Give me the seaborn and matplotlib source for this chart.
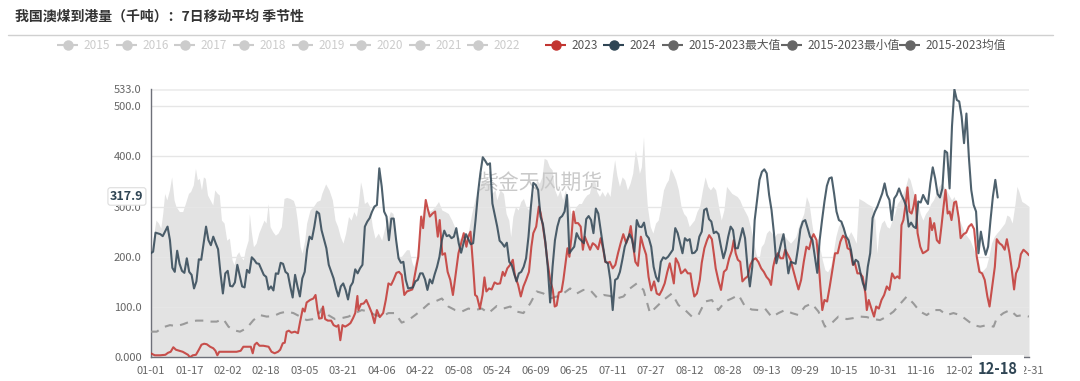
import numpy as np
import pandas as pd
import seaborn as sns
import matplotlib.pyplot as plt

sns.set_theme(style="white")
plt.rcParams['font.family'] = ['Noto Sans CJK SC', 'DejaVu Sans']
plt.rcParams['axes.unicode_minus'] = False

# ---- data: (day of year, value in thousand tonnes) ----
pts_2024 = [
    (0, 207), (1, 210), (2, 248), (4, 245), (5, 241), (7, 260), (8, 233), (9, 178), (10, 170), (11, 212),
    (12, 186), (13, 172), (14, 168), (15, 197), (16, 170), (17, 164), (18, 137), (19, 151), (20, 195), (21, 194),
    (22, 227), (23, 260), (24, 233), (25, 223), (26, 240), (27, 227), (28, 215), (29, 167), (30, 127), (31, 167),
    (32, 172), (33, 142), (34, 141), (35, 149), (36, 184), (38, 141), (39, 139), (40, 174), (41, 168), (42, 199),
    (43, 194), (44, 187), (45, 186), (47, 164), (48, 160), (49, 135), (50, 141), (51, 133), (52, 167), (53, 166),
    (54, 188), (55, 186), (56, 170), (57, 166), (58, 141), (59, 119), (60, 164), (61, 141), (62, 121), (63, 157),
    (64, 170), (65, 214), (66, 240), (67, 235), (68, 260), (69, 290), (70, 286), (71, 253), (72, 235), (73, 217),
    (74, 184), (76, 157), (77, 137), (78, 121), (79, 141), (80, 147), (81, 134), (82, 115), (83, 141), (84, 149),
    (85, 175), (86, 167), (87, 177), (88, 184), (89, 260), (90, 270), (91, 277), (92, 290), (93, 300), (94, 303),
    (95, 376), (96, 340), (97, 290), (98, 280), (99, 233), (100, 276), (101, 276), (102, 233), (103, 197), (104, 188),
    (105, 190), (106, 154), (107, 137), (109, 139), (110, 151), (111, 154), (112, 167), (113, 167), (114, 155), (115, 134),
    (116, 155), (117, 147), (118, 165), (119, 180), (120, 200), (121, 233), (122, 252), (123, 241), (124, 243), (125, 237),
    (126, 240), (127, 257), (128, 227), (129, 208), (130, 227), (131, 245), (132, 235), (133, 225), (134, 227), (135, 273),
    (136, 326), (137, 366), (138, 398), (139, 391), (140, 383), (141, 386), (142, 306), (143, 283), (144, 260), (145, 232),
    (146, 227), (147, 220), (148, 228), (149, 190), (150, 184), (151, 167), (152, 151), (153, 167), (154, 170), (155, 180),
    (156, 197), (157, 240), (158, 300), (159, 347), (160, 343), (161, 333), (162, 280), (163, 265), (164, 230), (165, 180),
    (166, 109), (167, 180), (168, 233), (169, 260), (170, 277), (171, 281), (172, 290), (173, 323), (174, 207), (175, 214),
    (176, 220), (177, 247), (178, 237), (180, 227), (181, 275), (182, 281), (183, 273), (184, 247), (185, 296), (186, 286),
    (187, 253), (188, 220), (189, 190), (190, 187), (191, 154), (192, 94), (193, 154), (194, 157), (195, 170), (196, 194),
    (197, 220), (198, 233), (199, 245), (200, 235), (201, 210), (202, 273), (203, 260), (204, 259), (205, 268), (206, 243),
    (207, 237), (208, 220), (209, 180), (210, 160), (211, 151), (212, 190), (213, 199), (214, 196), (215, 200), (216, 207),
    (217, 214), (218, 257), (219, 247), (220, 227), (221, 207), (222, 237), (223, 232), (224, 235), (225, 207), (226, 208),
    (227, 214), (228, 240), (229, 250), (230, 293), (231, 296), (232, 275), (233, 270), (234, 247), (235, 250), (236, 245),
    (237, 220), (238, 197), (239, 214), (240, 240), (241, 260), (242, 253), (243, 217), (244, 217), (245, 237), (246, 257),
    (247, 237), (248, 180), (249, 141), (250, 180), (251, 273), (252, 313), (253, 353), (254, 369), (255, 374), (256, 366),
    (257, 323), (258, 293), (259, 247), (260, 187), (261, 207), (262, 227), (263, 245), (264, 207), (265, 167), (266, 190),
    (267, 188), (268, 186), (269, 217), (270, 255), (271, 270), (272, 273), (273, 257), (274, 240), (275, 233), (276, 200),
    (277, 168), (278, 233), (279, 273), (280, 310), (281, 341), (282, 356), (283, 358), (284, 326), (285, 290), (286, 273),
    (287, 270), (288, 257), (289, 240), (290, 233), (291, 214), (292, 184), (293, 194), (294, 190), (295, 167), (296, 147),
    (297, 134), (298, 180), (299, 207), (300, 277), (301, 290), (302, 300), (303, 313), (304, 326), (305, 346), (306, 323),
    (307, 313), (308, 273), (309, 316), (310, 323), (311, 336), (312, 323), (313, 313), (314, 300), (315, 260), (316, 268),
    (317, 260), (318, 257), (319, 310), (320, 308), (321, 323), (322, 313), (323, 305), (324, 346), (325, 378), (326, 356),
    (327, 325), (328, 318), (329, 336), (330, 411), (331, 407), (332, 336), (333, 460), (334, 533), (335, 512), (336, 509),
    (337, 479), (338, 426), (339, 485), (340, 399), (341, 333), (342, 303), (343, 290), (344, 207), (345, 250), (346, 223),
    (347, 204), (348, 220), (349, 273), (350, 320), (351, 353), (352, 317.9),
]

pts_2023 = [
    (0, 8), (1.7, 4), (3.9, 4), (6.1, 5), (7.2, 9), (8.3, 11), (9.4, 20), (10.5, 15), (11.9, 13), (13.3, 11),
    (14.4, 8), (15.5, 5), (16.3, 0), (17.5, 4), (18.8, 5), (20.0, 15), (21.1, 25), (22.2, 27), (23.3, 26), (24.7, 21),
    (26.0, 18), (26.9, 13), (27.7, 4), (28.5, 11), (30.2, 11), (33.0, 11), (35.7, 11), (37.4, 13), (38.5, 21), (39.9, 21),
    (41.6, 21), (42.4, 8), (43.2, 25), (44.1, 29), (45.2, 23), (46.8, 23), (49.0, 21), (50.2, 11), (51.5, 8), (52.9, 11),
    (53.8, 15), (54.9, 28), (55.7, 29), (56.5, 51), (57.4, 53), (58.5, 49), (59.9, 51), (61.2, 48), (62.1, 71), (63.2, 97),
    (64.0, 91), (64.8, 109), (66.2, 114), (67.6, 117), (68.5, 124), (69.3, 95), (70.0, 77), (71.1, 78), (71.6, 101), (72.5, 76),
    (73.6, 73), (75.0, 73), (76.0, 64), (77.2, 61), (78.0, 64), (78.8, 34), (79.7, 64), (80.8, 61), (81.9, 64), (83.0, 68),
    (84.1, 78), (85.0, 88), (85.9, 122), (86.3, 94), (87.4, 106), (88.5, 107), (89.6, 114), (90.7, 102), (91.9, 88), (93.0, 68),
    (94.0, 94), (95.2, 80), (96.6, 88), (97.7, 114), (98.8, 147), (99.9, 144), (101.0, 155), (102.1, 168), (103.2, 170), (104.3, 164),
    (105.4, 124), (106.5, 131), (107.6, 133), (108.7, 135), (109.9, 167), (111.2, 200), (112.4, 280), (113.2, 257), (114.3, 313), (115.1, 296),
    (116.0, 280), (117.1, 286), (118.2, 290), (119.3, 240), (120.1, 273), (121.2, 204), (122.3, 207), (123.4, 170), (124.5, 154), (125.6, 124),
    (126.8, 167), (127.9, 207), (129.0, 227), (130.1, 247), (131.2, 220), (132.0, 240), (132.9, 250), (134.0, 180), (134.8, 124), (135.6, 121),
    (136.8, 97), (137.9, 124), (138.7, 159), (139.5, 131), (140.6, 137), (141.7, 135), (142.9, 149), (144.0, 146), (145.2, 147), (146.3, 170),
    (147.1, 162), (148.2, 177), (149.4, 184), (150.5, 194), (151.3, 164), (152.7, 144), (153.8, 121), (154.9, 141), (156.0, 154), (157.2, 170),
    (158.2, 220), (159.0, 247), (160.2, 260), (161.3, 300), (162.1, 286), (163.0, 260), (164.0, 227), (164.9, 190), (166.0, 154), (167.1, 134),
    (167.9, 101), (168.7, 103), (169.6, 129), (170.7, 131), (171.5, 154), (172.3, 184), (173.2, 217), (174.0, 200), (174.8, 237), (175.7, 290),
    (176.5, 267), (177.6, 267), (178.7, 260), (179.6, 214), (180.4, 240), (181.5, 227), (182.6, 214), (183.7, 227), (184.8, 223), (185.9, 215),
    (187.0, 237), (188.1, 214), (188.9, 190), (190.0, 188), (190.8, 190), (192.0, 177), (193.1, 184), (194.2, 207), (195.3, 227), (196.4, 245),
    (197.6, 227), (198.7, 241), (199.5, 261), (200.3, 230), (201.4, 190), (202.5, 182), (203.7, 240), (204.8, 220), (205.9, 204), (206.9, 160),
    (208.0, 133), (209.2, 151), (210.3, 127), (211.4, 124), (212.5, 134), (213.6, 147), (214.7, 170), (215.7, 187), (216.6, 167), (217.4, 147),
    (218.2, 197), (219.3, 187), (220.4, 167), (221.2, 170), (222.1, 175), (223.2, 167), (224.3, 167), (225.1, 141), (225.9, 121), (227.0, 127),
    (228.2, 154), (229.0, 188), (230.1, 217), (231.2, 233), (232.1, 243), (233.2, 235), (234.0, 207), (234.8, 177), (236.0, 151), (237.0, 134),
    (238.2, 170), (239.3, 175), (240.4, 197), (241.5, 212), (242.3, 233), (243.1, 207), (244.0, 194), (245.0, 190), (245.9, 151), (247.0, 157),
    (248.1, 161), (249.2, 184), (250.3, 194), (251.4, 197), (252.5, 190), (253.7, 177), (254.8, 170), (255.9, 160), (257.0, 154), (257.8, 144),
    (258.7, 180), (259.5, 197), (260.6, 207), (261.7, 197), (262.8, 197), (263.7, 214), (264.8, 204), (265.9, 194), (267.0, 174), (268.1, 154),
    (269.2, 135), (270.3, 154), (271.4, 190), (272.5, 220), (273.6, 215), (274.7, 237), (275.5, 245), (276.7, 233), (277.5, 194), (278.3, 141),
    (279.1, 94), (280.0, 114), (281.1, 111), (282.2, 141), (283.3, 174), (284.4, 207), (285.5, 207), (286.6, 230), (287.7, 242), (288.7, 237),
    (289.6, 217), (290.7, 214), (291.8, 184), (292.6, 188), (293.7, 167), (294.8, 167), (295.9, 160), (297.0, 127), (297.6, 94), (298.4, 114),
    (299.5, 97), (300.6, 81), (301.5, 101), (302.6, 97), (303.7, 114), (304.8, 124), (305.9, 141), (307.0, 134), (308.1, 167), (309.2, 157),
    (310.3, 161), (311.2, 157), (312.0, 263), (312.8, 273), (313.7, 303), (314.5, 338), (315.3, 290), (316.2, 286), (317.0, 300), (317.8, 323),
    (318.7, 247), (319.8, 220), (320.9, 207), (322.0, 210), (323.1, 214), (323.9, 277), (324.7, 253), (325.6, 267), (326.7, 233), (327.8, 227),
    (328.6, 260), (329.5, 300), (330.3, 333), (331.2, 286), (332.0, 290), (332.8, 273), (333.9, 308), (334.7, 310), (335.8, 277), (336.6, 237),
    (337.8, 245), (338.9, 248), (340.0, 260), (341.1, 265), (342.2, 255), (343.3, 200), (344.4, 170), (345.5, 167), (346.6, 154), (347.7, 121),
    (348.6, 101), (349.7, 141), (350.8, 180), (351.6, 235), (352.7, 227), (353.8, 223), (354.9, 214), (355.8, 235), (356.9, 207), (357.7, 180),
    (358.8, 135), (359.6, 167), (360.8, 180), (361.6, 205), (362.7, 214), (364.1, 208), (365.0, 203),
]

pts_max = [
    (0, 194), (1.1, 240), (2.2, 273), (3.2, 267), (4.2, 257), (5.0, 286), (5.8, 326), (6.7, 313), (7.8, 333), (8.7, 359),
    (9.7, 313), (10.5, 300), (11.9, 290), (13.3, 290), (14.4, 306), (15.7, 326), (16.6, 330), (17.7, 343), (18.6, 376), (19.4, 353),
    (20.2, 356), (21.1, 333), (21.9, 359), (22.7, 356), (23.6, 323), (24.7, 313), (25.8, 303), (26.6, 333), (27.7, 326), (28.5, 323),
    (29.4, 273), (30.5, 267), (31.6, 233), (32.7, 237), (33.8, 194), (34.6, 184), (35.7, 204), (36.6, 210), (37.4, 200), (38.5, 194),
    (39.3, 214), (40.5, 233), (41.0, 286), (41.8, 250), (42.7, 220), (43.8, 227), (44.9, 247), (46.0, 260), (47.1, 273), (47.9, 267),
    (48.8, 306), (49.6, 260), (50.7, 250), (51.8, 243), (52.9, 247), (54.3, 260), (55.4, 316), (56.5, 318), (57.9, 316), (59.3, 312),
    (60.1, 300), (60.9, 273), (62.1, 220), (62.9, 207), (64.0, 233), (64.8, 267), (66.2, 293), (67.6, 300), (69.0, 310), (70.4, 313),
    (71.1, 326), (72.7, 345), (74.1, 333), (75.5, 313), (76.6, 273), (77.7, 260), (78.8, 240), (79.9, 227), (81.0, 247), (82.2, 280),
    (83.3, 273), (84.4, 290), (85.5, 280), (86.3, 306), (87.2, 349), (88.0, 333), (88.8, 306), (89.9, 310), (91.0, 300), (92.1, 260),
    (93.2, 237), (94.6, 247), (96.0, 233), (97.4, 260), (98.5, 273), (99.6, 290), (100.7, 286), (101.8, 243), (103.0, 200), (104.1, 200),
    (105.2, 207), (106.3, 214), (107.4, 214), (108.5, 190), (109.3, 180), (110.4, 200), (111.5, 240), (112.6, 280), (114.0, 313), (115.4, 290),
    (116.8, 293), (118.2, 300), (119.6, 310), (121.0, 293), (122.3, 290), (123.7, 286), (125.1, 273), (126.5, 257), (127.9, 240), (129.3, 233),
    (130.6, 240), (132.0, 250), (133.4, 286), (134.8, 316), (136.2, 333), (137.6, 353), (139.0, 340), (140.4, 353), (141.7, 326), (143.1, 333),
    (143.8, 313), (145.2, 333), (146.6, 326), (147.7, 286), (148.8, 273), (149.6, 240), (150.5, 280), (151.6, 300), (152.7, 293), (153.8, 310),
    (154.9, 316), (156.0, 300), (157.1, 293), (158.2, 313), (159.3, 333), (160.4, 353), (161.5, 346), (162.6, 359), (163.5, 396), (164.6, 393),
    (165.7, 379), (166.8, 373), (167.9, 333), (169.0, 320), (170.1, 333), (171.2, 313), (172.3, 333), (173.5, 316), (174.6, 286), (175.7, 290),
    (176.8, 300), (177.9, 306), (179.0, 306), (180.1, 316), (181.2, 323), (182.3, 326), (183.4, 349), (184.5, 353), (185.4, 330), (186.5, 320),
    (187.6, 330), (188.7, 320), (189.8, 330), (190.9, 320), (192.0, 366), (192.8, 393), (193.7, 363), (194.8, 340), (195.9, 359), (197.0, 353),
    (198.1, 333), (199.2, 346), (200.3, 366), (201.4, 412), (202.2, 393), (203.1, 366), (203.9, 379), (204.8, 439), (205.6, 353), (206.4, 300),
    (207.6, 260), (208.7, 247), (209.8, 267), (210.9, 273), (212.0, 300), (213.1, 333), (214.2, 346), (215.1, 353), (216.0, 376), (217.1, 366),
    (218.2, 353), (219.3, 333), (220.4, 300), (221.5, 286), (222.6, 280), (223.8, 260), (224.9, 267), (225.9, 273), (227.0, 290), (228.1, 300),
    (229.3, 333), (230.4, 359), (231.5, 340), (232.6, 333), (233.7, 340), (234.8, 333), (236.0, 300), (237.1, 273), (238.2, 293), (239.3, 340),
    (240.4, 333), (241.5, 326), (242.6, 323), (243.7, 320), (244.8, 313), (245.9, 300), (247.0, 290), (248.1, 280), (249.2, 260), (250.4, 233),
    (251.5, 207), (252.6, 190), (253.7, 220), (254.8, 227), (255.9, 247), (257.0, 253), (258.1, 247), (259.2, 240), (260.3, 247), (261.4, 247),
    (262.5, 248), (263.6, 240), (264.7, 233), (265.9, 227), (267.0, 233), (268.1, 240), (269.2, 260), (270.3, 273), (271.4, 286), (272.5, 320),
    (273.6, 306), (274.7, 267), (275.8, 233), (276.9, 227), (278.0, 220), (279.1, 194), (280.2, 174), (281.3, 170), (282.5, 180), (283.6, 207),
    (284.7, 240), (285.8, 260), (287.1, 273), (288.7, 247), (289.8, 240), (290.9, 250), (292.0, 240), (293.2, 227), (294.3, 316), (295.4, 313),
    (296.5, 310), (297.6, 306), (298.7, 303), (299.8, 300), (301.0, 273), (301.8, 207), (302.6, 247), (303.7, 267), (304.8, 273), (305.9, 260),
    (307.0, 257), (308.1, 273), (309.2, 286), (310.3, 306), (311.4, 313), (312.6, 326), (313.7, 340), (314.8, 359), (315.6, 353), (316.7, 333),
    (317.8, 316), (318.9, 306), (319.8, 286), (320.9, 273), (322.0, 286), (323.1, 293), (324.2, 306), (325.3, 313), (326.4, 326), (327.5, 340),
    (328.6, 346), (329.5, 340), (330.6, 333), (331.7, 323), (332.8, 313), (333.9, 320), (335.0, 300), (336.1, 273), (337.2, 260), (338.3, 247),
    (339.4, 240), (340.5, 233), (341.6, 220), (342.7, 207), (343.9, 194), (345.0, 170), (346.1, 174), (347.2, 180), (348.3, 200), (349.4, 227),
    (350.5, 240), (351.6, 247), (352.7, 253), (353.8, 260), (354.9, 267), (355.8, 283), (356.9, 280), (358.0, 267), (359.2, 306), (360.0, 340),
    (360.8, 330), (362.0, 310), (363.4, 306), (365.0, 300),
]

pts_mean = [
    (0, 51), (2.5, 51), (5.3, 60), (8.0, 64), (10.8, 62), (13.6, 66), (16.3, 71), (19.1, 73), (21.9, 73), (24.7, 71),
    (27.4, 71), (30.2, 76), (32.3, 61), (34.4, 54), (37.1, 51), (39.9, 58), (42.7, 74), (45.4, 84), (48.2, 81), (51.0, 82),
    (53.8, 88), (56.5, 91), (59.3, 88), (62.1, 81), (64.8, 74), (67.6, 76), (70.4, 90), (71.1, 97), (73.8, 84), (76.6, 76),
    (79.4, 78), (82.2, 81), (85.0, 88), (87.7, 94), (90.5, 91), (93.3, 84), (96.0, 81), (98.8, 88), (101.5, 88), (104.3, 69),
    (107.1, 74), (109.9, 84), (112.6, 94), (115.4, 106), (118.2, 111), (121.0, 117), (123.7, 101), (126.5, 94), (129.3, 91), (132.0, 97),
    (134.8, 94), (137.6, 97), (140.4, 88), (143.8, 102), (146.6, 97), (149.4, 101), (152.1, 91), (154.9, 88), (157.7, 107), (160.4, 131),
    (163.2, 127), (166.0, 117), (168.8, 121), (171.5, 127), (174.3, 137), (177.1, 127), (179.8, 134), (182.6, 134), (185.4, 119), (188.2, 124),
    (190.9, 122), (193.7, 117), (196.5, 121), (199.2, 137), (202.0, 147), (204.8, 134), (207.5, 88), (210.3, 101), (213.1, 114), (216.6, 127),
    (219.3, 104), (222.1, 94), (224.9, 81), (227.6, 84), (230.4, 111), (233.2, 114), (235.9, 94), (238.7, 111), (241.5, 117), (244.3, 124),
    (247.0, 101), (249.8, 95), (252.6, 94), (255.3, 97), (258.1, 80), (260.9, 88), (263.6, 94), (266.4, 88), (269.2, 84), (271.9, 101),
    (274.7, 107), (277.5, 91), (280.2, 61), (283.0, 68), (285.8, 81), (289.3, 76), (292.0, 78), (294.8, 81), (297.6, 80), (300.4, 76),
    (303.1, 74), (305.9, 81), (308.7, 91), (311.4, 106), (314.2, 121), (317.0, 107), (319.7, 91), (322.5, 84), (325.3, 94), (328.0, 94),
    (330.8, 84), (333.6, 88), (336.4, 84), (339.2, 74), (341.9, 64), (344.7, 61), (347.5, 64), (350.3, 61), (351.6, 78), (354.4, 88),
    (357.1, 94), (359.9, 82), (362.5, 84), (365.0, 81),
]

xtick_days = [0, 16, 32, 48, 64, 80, 96, 112, 128, 144, 160, 176, 192, 208, 224, 240,
              256, 272, 288, 304, 320, 336, 352, 365]
xtick_labels = ['01-01', '01-17', '02-02', '02-18', '03-05', '03-21', '04-06', '04-22',
                '05-08', '05-24', '06-09', '06-25', '07-11', '07-27', '08-12', '08-28',
                '09-13', '09-29', '10-15', '10-31', '11-16', '12-02', '12-18', '12-31']
ytick_vals = [0, 100, 200, 300, 400, 500, 533]
ytick_labels = ['0.000', '100.0', '200.0', '300.0', '400.0', '500.0', '533.0']

legend_labels = ['2015', '2016', '2017', '2018', '2019', '2020', '2021', '2022', '2023', '2024',
                 '2015-2023最大值', '2015-2023最小值', '2015-2023均值']
legend_text_x = [83, 142, 200, 259, 318, 376, 435, 493, 571, 629, 688, 807, 925]

RED = '#c23531'
NAVY = '#2f4554'
GREY_OFF = '#cccccc'
legend_colors = [GREY_OFF] * 8 + [RED, NAVY, '#666666', '#666666', '#666666']
legend_active = [False] * 8 + [True] * 5

df24 = pd.DataFrame(pts_2024, columns=['day', 'value'])
df23 = pd.DataFrame(pts_2023, columns=['day', 'value'])
dfmax = pd.DataFrame(pts_max, columns=['day', 'value'])
dfmean = pd.DataFrame(pts_mean, columns=['day', 'value'])

W, H = 1080, 381
fig = plt.figure(figsize=(W / 100, H / 100), dpi=100)
ax = fig.add_axes([150.7 / W, (H - 357.3) / H, (1029 - 150.7) / W, (357.3 - 89.4) / H])

# max band (filled area)
ax.fill_between(dfmax['day'], dfmax['value'], 0, color='#e3e3e3', lw=0, zorder=1)

# gridlines drawn above the area
for v in ytick_vals[1:]:
    ax.axhline(v, color='#e6e6e6' if v != 533 else '#eeeeee', lw=1 if v != 533 else 2, zorder=1.5)

ax.text(0.443, 0.651, '紫金天风期货', transform=ax.transAxes, fontsize=15,
        color='#c9c9c9', ha='center', va='center', zorder=2)

sns.lineplot(data=dfmean, x='day', y='value', ax=ax, color='#9a9a9a', lw=1.5,
             errorbar=None, zorder=3)
ax.lines[-1].set_dashes([4, 3.5])
sns.lineplot(data=df23, x='day', y='value', ax=ax, color=RED, lw=1.5, alpha=0.85,
             errorbar=None, zorder=4)
sns.lineplot(data=df24, x='day', y='value', ax=ax, color=NAVY, lw=1.5, alpha=0.85,
             errorbar=None, zorder=5)

ax.set_xlim(0, 365)
ax.set_ylim(0, 533)
ax.set_xlabel('')
ax.set_ylabel('')
ax.set_xticks(xtick_days)
ax.set_xticklabels(xtick_labels)
ax.set_yticks(ytick_vals)
ax.set_yticklabels(ytick_labels)
ax.grid(False)
for s in ['top', 'right']:
    ax.spines[s].set_visible(False)
for s in ['left', 'bottom']:
    ax.spines[s].set_color('#6e7079')
    ax.spines[s].set_linewidth(1)
ax.tick_params(axis='both', which='major', direction='out', length=4, width=1,
               color='#6e7079', labelsize=8, labelcolor='#666666', pad=2.5)
ax.set_facecolor('none')

# axis pointer labels (hover state of the original chart)
ax.text(352, -0.043, '12-18', transform=ax.get_xaxis_transform(), ha='center', va='center',
        fontsize=10.5, fontweight='bold', color='#2f4554', zorder=10, clip_on=False,
        bbox=dict(boxstyle='square,pad=0.42', fc='white', ec='none'))
ax.text(-0.008, 320, '317.9', transform=ax.get_yaxis_transform(), ha='right', va='center',
        fontsize=9, fontweight='bold', color='#2f4554', zorder=10, clip_on=False,
        bbox=dict(boxstyle='round,pad=0.18,rounding_size=0.2', fc='white', ec='#dddddd', lw=0.8))

# title, separator, legend on a pixel overlay
ov = fig.add_axes([0, 0, 1, 1])
ov.set_xlim(0, W)
ov.set_ylim(H, 0)
ov.axis('off')
ov.text(15, 17, '我国澳煤到港量（千吨）：7日移动平均 季节性', fontsize=10, fontweight='bold',
        color='#333333', va='center', ha='left')
ov.plot([8, 1053], [35, 35], color='#d0d0d0', lw=1)
for lab, tx, col, act in zip(legend_labels, legend_text_x, legend_colors, legend_active):
    ov.plot([tx - 26, tx - 5], [45, 45], color=col, lw=1.5, solid_capstyle='butt')
    ov.plot([tx - 15.5], [45], marker='o', ms=6.5, color=col, mec=col)
    ov.text(tx, 45.5, lab, fontsize=8.5, color='#555555' if act else GREY_OFF,
            va='center', ha='left')

fig.savefig('out.png', dpi=100)
